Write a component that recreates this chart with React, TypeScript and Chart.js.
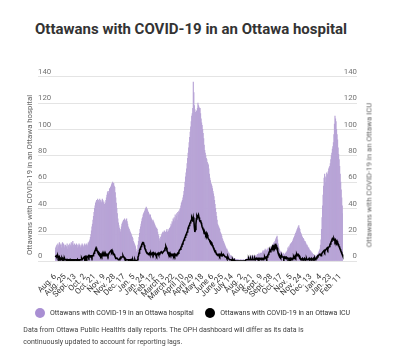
import React, { useEffect, useRef } from "react";
import { Chart, registerables } from "chart.js";

Chart.register(...registerables);

const TITLE = "Ottawans with COVID-19 in an Ottawa hospital";
const HOSPITAL_LABEL = "Ottawans with COVID-19 in an Ottawa hospital";
const ICU_LABEL = "Ottawans with COVID-19 in an Ottawa ICU";
const NOTE_LINES = [
  "Data from Ottawa Public Health's daily reports. The OPH dashboard will differ as its data is",
  "continuously updated to account for reporting lags.",
];

const TICK_LABELS = [
  "Aug. 6", "Aug. 25", "Sept. 13", "Oct. 2", "Oct. 21", "Nov. 9", "Nov. 28", "Dec. 17",
  "Jan. 5", "Jan. 24", "Feb. 12", "March 3", "March 22", "April 10", "April 29", "May 18",
  "June 6", "June 25", "July 14", "Aug. 2", "Aug. 21", "Sept. 9", "Sept. 28", "Oct. 17",
  "Nov. 5", "Nov. 24", "Dec. 13", "Jan. 4", "Jan. 23", "Feb. 11",
];
const FIRST_TICK = 0;
const TICK_STEP = 19;
const Y_MIN = 0;
const Y_MAX = 140;
const Y_STEP = 20;

// Daily counts, one value per report day
const HOSPITAL = [
  10, 8, 11, 12, 9, 13, 11, 12, 14, 11,
  12, 13, 10, 12, 14, 11, 13, 12, 10, 11,
  12, 10, 11, 13, 9, 11, 12, 10, 13, 11,
  12, 14, 11, 13, 15, 12, 10, 13, 11, 12,
  11, 13, 12, 10, 12, 11, 13, 12, 11, 10,
  12, 11, 13, 12, 10, 11, 12, 13, 11, 12,
  12, 13, 11, 12, 14, 13, 15, 16, 18, 20,
  23, 26, 28, 31, 34, 37, 40, 42, 44, 45,
  46, 44, 47, 45, 46, 44, 47, 45, 46, 44,
  45, 47, 46, 44, 45, 43, 41, 44, 46, 48,
  50, 52, 53, 51, 53, 55, 54, 56, 57, 58,
  59, 60, 58, 59, 57, 56, 52, 48, 44, 40,
  36, 32, 29, 27, 25, 23, 22, 24, 26, 28,
  29, 30, 31, 30, 32, 31, 30, 31, 32, 30,
  28, 26, 25, 24, 23, 22, 21, 20, 19, 18,
  17, 15, 14, 13, 12, 11, 9, 7, 6, 8,
  12, 15, 18, 21, 24, 26, 28, 30, 32, 33,
  35, 36, 37, 38, 39, 40, 41, 40, 39, 38,
  37, 36, 35, 34, 35, 33, 32, 31, 30, 31,
  30, 29, 28, 27, 26, 25, 25, 24, 22, 20,
  19, 17, 15, 16, 18, 19, 20, 21, 22, 21,
  22, 23, 21, 22, 20, 23, 24, 22, 21, 23,
  24, 25, 23, 26, 28, 27, 30, 29, 32, 31,
  33, 30, 35, 32, 34, 36, 31, 37, 35, 38,
  37, 39, 40, 42, 44, 45, 46, 48, 50, 53,
  56, 60, 64, 67, 70, 74, 78, 82, 86, 90,
  94, 98, 102, 106, 110, 112, 116, 136, 128, 118,
  115, 113, 112, 114, 112, 116, 120, 118, 117, 116,
  116, 112, 108, 105, 103, 100, 97, 93, 88, 84,
  82, 80, 78, 77, 75, 74, 73, 70, 66, 63,
  61, 59, 58, 57, 55, 53, 51, 49, 46, 43,
  40, 37, 34, 31, 28, 27, 26, 25, 24, 22,
  21, 20, 19, 17, 16, 15, 14, 13, 12, 11,
  10, 9, 9, 8, 7, 6, 6, 5, 4, 4,
  4, 3, 3, 3, 2, 2, 2, 2, 1, 1,
  1, 1, 1, 1, 0, 1, 0, 0, 1, 0,
  0, 1, 0, 0, 1, 0, 0, 1, 0, 1,
  1, 2, 2, 3, 2, 3, 3, 2, 3, 4,
  3, 4, 3, 4, 3, 2, 3, 4, 4, 3,
  4, 5, 4, 5, 6, 5, 4, 6, 5, 6,
  6, 7, 8, 7, 6, 8, 9, 8, 7, 8,
  9, 8, 10, 9, 7, 9, 10, 11, 9, 10,
  12, 11, 13, 14, 13, 15, 16, 17, 18, 19,
  16, 13, 11, 9, 8, 7, 6, 7, 6, 5,
  5, 6, 5, 4, 5, 6, 5, 7, 6, 8,
  10, 9, 11, 10, 12, 13, 12, 14, 13, 15,
  16, 17, 18, 19, 20, 21, 22, 23, 24, 25,
  26, 27, 25, 24, 22, 21, 20, 19, 18, 17,
  17, 16, 15, 15, 14, 13, 12, 12, 11, 10,
  10, 9, 8, 8, 7, 7, 6, 6, 5, 5,
  4, 4, 3, 4, 3, 4, 4, 5, 5, 6,
  7, 8, 9, 12, 16, 24, 33, 42, 50, 57,
  63, 66, 64, 60, 63, 67, 65, 66, 68, 70,
  71, 72, 74, 77, 80, 82, 85, 87, 90, 96,
  104, 110, 108, 106, 100, 96, 92, 86, 81, 77,
  72, 66, 60, 54, 48, 42, 36,
];

const ICU = [
  3, 3, 4, 3, 3, 4, 3, 2, 3, 2,
  2, 2, 1, 2, 1, 2, 1, 1, 2, 1,
  1, 1, 0, 1, 1, 0, 1, 1, 0, 1,
  1, 0, 1, 1, 0, 0, 1, 1, 0, 1,
  1, 1, 0, 1, 0, 1, 1, 0, 1, 1,
  1, 2, 1, 1, 2, 2, 3, 2, 3, 2,
  3, 2, 3, 3, 4, 3, 4, 4, 3, 4,
  4, 3, 4, 4, 5, 6, 7, 8, 9, 10,
  9, 8, 7, 7, 6, 6, 5, 5, 4, 5,
  4, 4, 5, 4, 5, 4, 5, 4, 5, 4,
  5, 5, 4, 5, 6, 6, 7, 7, 8, 7,
  8, 7, 6, 6, 5, 4, 3, 3, 2, 2,
  2, 2, 1, 1, 1, 2, 2, 3, 3, 3,
  3, 4, 3, 3, 2, 2, 1, 1, 1, 1,
  1, 1, 0, 1, 1, 1, 0, 1, 1, 0,
  1, 0, 0, 0, 1, 0, 0, 0, 0, 1,
  3, 4, 6, 8, 9, 10, 11, 12, 13, 14,
  14, 13, 12, 10, 9, 8, 7, 7, 6, 6,
  5, 5, 6, 5, 5, 6, 5, 5, 6, 5,
  6, 5, 5, 6, 5, 5, 4, 5, 5, 6,
  5, 5, 6, 6, 6, 7, 7, 6, 6, 7,
  7, 8, 9, 10, 11, 10, 8, 7, 6, 6,
  6, 5, 6, 5, 5, 5, 4, 5, 5, 4,
  5, 4, 5, 5, 4, 5, 5, 6, 6, 7,
  8, 8, 9, 10, 11, 12, 13, 14, 15, 16,
  17, 18, 19, 20, 21, 22, 23, 25, 26, 27,
  28, 29, 30, 31, 33, 32, 30, 33, 31, 26,
  22, 24, 28, 32, 34, 33, 34, 35, 33, 31,
  30, 31, 29, 28, 26, 25, 24, 23, 21, 22,
  21, 20, 21, 19, 20, 18, 17, 17, 16, 15,
  15, 14, 14, 13, 12, 11, 10, 9, 8, 8,
  7, 6, 6, 5, 5, 4, 5, 5, 4, 5,
  5, 4, 5, 4, 4, 5, 5, 4, 4, 3,
  3, 3, 2, 2, 3, 2, 2, 1, 1, 1,
  1, 1, 0, 1, 0, 0, 1, 0, 0, 0,
  0, 0, 0, 0, 0, 0, 0, 0, 0, 0,
  0, 0, 0, 0, 0, 0, 0, 0, 0, 1,
  1, 1, 1, 1, 2, 1, 1, 1, 2, 1,
  1, 1, 2, 1, 1, 1, 2, 1, 1, 2,
  2, 1, 2, 2, 1, 2, 2, 2, 1, 2,
  2, 2, 1, 2, 2, 3, 2, 2, 3, 2,
  3, 4, 5, 6, 7, 8, 7, 8, 9, 10,
  11, 10, 11, 10, 11, 12, 11, 12, 11, 10,
  8, 6, 5, 5, 4, 4, 3, 3, 4, 3,
  3, 3, 2, 3, 3, 2, 3, 3, 2, 2,
  2, 2, 1, 2, 2, 1, 2, 2, 1, 2,
  2, 3, 2, 3, 4, 3, 4, 5, 4, 5,
  5, 4, 4, 3, 2, 2, 1, 1, 2, 1,
  1, 1, 2, 1, 1, 1, 2, 1, 1, 1,
  1, 2, 1, 1, 1, 2, 1, 1, 1, 2,
  1, 1, 2, 1, 2, 2, 3, 3, 4, 4,
  4, 5, 5, 5, 4, 5, 6, 6, 7, 7,
  8, 7, 8, 8, 9, 9, 10, 9, 10, 10,
  11, 12, 13, 14, 15, 16, 17, 17, 16, 17,
  16, 15, 16, 15, 14, 15, 14, 13, 12, 11,
  10, 9, 8, 7, 6, 5, 4,
];

const PURPLE = "#b8a4d6";
const PURPLE_LEGEND = "#a98fd3";
const GRID = "#e4e4e4";
const FONT = "Roboto";

const CATEGORIES = HOSPITAL.map((_, i) => {
  const k = (i - FIRST_TICK) / TICK_STEP;
  return Number.isInteger(k) && k >= 0 && k < TICK_LABELS.length ? TICK_LABELS[k] : "";
});

function ChartCanvas() {
  const ref = useRef<HTMLCanvasElement | null>(null);
  useEffect(() => {
    if (!ref.current) return;
    const chart = new Chart(ref.current, {
      type: "bar",
      data: {
        labels: CATEGORIES,
        datasets: [
          {
            type: "line",
            label: ICU_LABEL,
            data: ICU,
            borderColor: "#000000",
            borderWidth: 1.6,
            pointRadius: 0,
            tension: 0,
            yAxisID: "y1",
            order: 0,
          } as any,
          {
            type: "bar",
            label: HOSPITAL_LABEL,
            data: HOSPITAL,
            backgroundColor: PURPLE,
            borderWidth: 0,
            barPercentage: 1,
            categoryPercentage: 1,
            yAxisID: "y",
            order: 1,
          },
        ],
      },
      options: {
        responsive: false,
        maintainAspectRatio: false,
        animation: false,
        events: [],
        layout: { padding: { left: 38, right: 58, top: 16.7, bottom: 0 } },
        plugins: { legend: { display: false }, tooltip: { enabled: false }, title: { display: false } },
        scales: {
          x: {
            type: "category",
            offset: true,
            grid: { display: false },
            border: { display: false },
            ticks: {
              autoSkip: false,
              minRotation: 45,
              maxRotation: 45,
              padding: 3,
              color: "#333333",
              font: { family: FONT, size: 8 },
              callback: (_v: any, i: number) => CATEGORIES[i],
            },
            afterFit: (s: any) => {
              s.height = 39;
            },
          },
          y: {
            position: "left",
            min: Y_MIN,
            max: Y_MAX,
            grid: { color: GRID, drawTicks: true, tickLength: 17, tickColor: GRID, lineWidth: 1 },
            border: { display: false },
            ticks: {
              stepSize: Y_STEP,
              crossAlign: "far",
              labelOffset: -4.5,
              padding: 0,
              color: "#737373",
              font: { family: FONT, size: 7.8 },
            },
            afterFit: (s: any) => {
              s.width = 17;
            },
          },
          y1: {
            position: "right",
            min: Y_MIN,
            max: Y_MAX,
            grid: { drawOnChartArea: false, drawTicks: true, tickLength: 14, tickColor: GRID, color: GRID },
            border: { display: false },
            ticks: {
              stepSize: Y_STEP,
              crossAlign: "far",
              labelOffset: -4.5,
              padding: 0,
              color: "#737373",
              font: { family: FONT, size: 7.8 },
            },
            afterFit: (s: any) => {
              s.width = 14;
            },
          },
        },
      },
    });
    return () => chart.destroy();
  }, []);
  return (
    <canvas
      ref={ref}
      width={415}
      height={240}
      style={{ position: "absolute", left: 0, top: 60, width: 415, height: 240 }}
    />
  );
}

const axisTitleStyle = (cx: number, cy: number): React.CSSProperties => ({
  position: "absolute",
  left: cx,
  top: cy,
  transform: "translate(-50%, -50%) rotate(-90deg)",
  whiteSpace: "nowrap",
  fontSize: 7.8,
  lineHeight: "9px",
  color: "#666666",
});

export default function App() {
  return (
    <div
      style={{
        position: "absolute",
        left: 0,
        top: 0,
        width: 415,
        height: 351,
        background: "#ffffff",
        fontFamily: FONT,
        overflow: "hidden",
      }}
    >
      <div
        style={{
          position: "absolute",
          left: 35,
          top: 21,
          fontSize: 15,
          fontWeight: 700,
          lineHeight: "16px",
          color: "#333333",
          whiteSpace: "nowrap",
        }}
      >
        {TITLE}
      </div>
      <ChartCanvas />
      <div style={axisTitleStyle(29, 175)}>{HOSPITAL_LABEL}</div>
      <div style={axisTitleStyle(369, 175)}>{ICU_LABEL}</div>
      <div
        style={{
          position: "absolute",
          left: 35,
          top: 307.5,
          width: 10,
          height: 10,
          borderRadius: "50%",
          background: PURPLE_LEGEND,
        }}
      />
      <div
        style={{
          position: "absolute",
          left: 50,
          top: 308,
          fontSize: 7,
          lineHeight: "10px",
          color: "#333333",
          whiteSpace: "nowrap",
        }}
      >
        {HOSPITAL_LABEL}
      </div>
      <div
        style={{
          position: "absolute",
          left: 204.5,
          top: 307.5,
          width: 10,
          height: 10,
          borderRadius: "50%",
          background: "#000000",
        }}
      />
      <div
        style={{
          position: "absolute",
          left: 220.3,
          top: 308,
          fontSize: 7,
          lineHeight: "10px",
          color: "#333333",
          whiteSpace: "nowrap",
        }}
      >
        {ICU_LABEL}
      </div>
      <div
        style={{
          position: "absolute",
          left: 23.3,
          top: 323.5,
          fontSize: 7,
          lineHeight: "12px",
          color: "#444444",
          whiteSpace: "nowrap",
        }}
      >
        {NOTE_LINES.map((l, i) => (
          <div key={i}>{l}</div>
        ))}
      </div>
    </div>
  );
}
